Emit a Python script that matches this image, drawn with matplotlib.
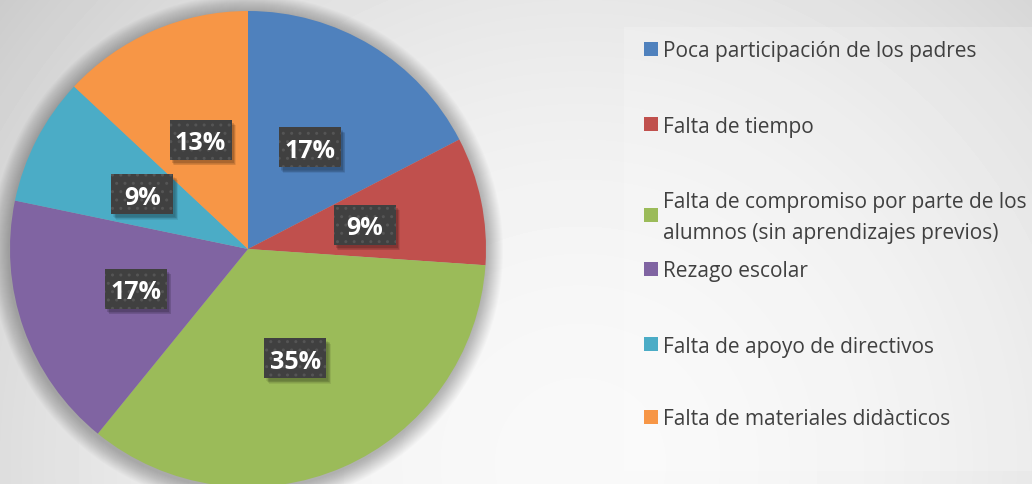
import numpy as np
import matplotlib
matplotlib.use("Agg")
import matplotlib.pyplot as plt
from matplotlib.patches import Rectangle, Circle

categories = [
    "Poca participación de los padres",
    "Falta de tiempo",
    "Falta de compromiso por parte de los\nalumnos (sin aprendizajes previos)",
    "Rezago escolar",
    "Falta de apoyo de directivos",
    "Falta de materiales didàcticos",
]
counts = [4, 2, 8, 4, 2, 3]
colors = ["#4f81bd", "#c0504d", "#9bbb59", "#8064a2", "#4bacc6", "#f79646"]

W, H = 1032, 485
fig = plt.figure(figsize=(W / 100, H / 100), dpi=100)
ax = fig.add_axes([0, 0, 1, 1])
ax.set_xlim(0, W)
ax.set_ylim(0, H)
ax.axis("off")

# background radial gradient
yy, xx = np.mgrid[0:H, 0:W]
d2 = (xx - 580) ** 2 + (yy - 20) ** 2
v = np.clip(0.975 - 3.2e-7 * d2, 0.76, 1)
ax.imshow(v, cmap="gray", vmin=0, vmax=1, extent=[0, W, H, 0], zorder=0,
          origin="upper", aspect="auto")

center = (248, 235)
radius = 238

wedges, texts, autotexts = ax.pie(
    counts, colors=colors, startangle=90, counterclock=False,
    center=center, radius=radius, autopct="%1.0f%%", pctdistance=0.5,
    wedgeprops=dict(linewidth=0, zorder=3), textprops=dict(zorder=6),
)
ax.set_xlim(0, W)
ax.set_ylim(0, H)
ax.set_aspect("equal")

# soft shadow around pie
cx, cy = wedges[0].center
r0 = wedges[0].r
for i in range(18):
    ax.add_patch(Circle((cx - 1, cy - 2), r0 + 18 - i, fc="black", ec="none",
                        alpha=0.016, zorder=2))

# label boxes
bw, bh = 62, 40
for t in autotexts:
    x, y = t.get_position()
    for k in range(5):
        ax.add_patch(Rectangle((x - bw / 2 + 2 + k * 0.6, y - bh / 2 - 3 - k * 0.6), bw, bh,
                               fc="black", ec="none", alpha=0.07, zorder=4))
    ax.add_patch(Rectangle((x - bw / 2, y - bh / 2), bw, bh, fc="#404040",
                           ec="#555555", lw=0, hatch="..", zorder=5))
    t.set_color("white")
    t.set_fontfamily("Open Sans")
    t.set_fontweight("bold")
    t.set_fontsize(18)
    t.set_va("center_baseline")
    t.set_ha("center")

# legend box
ax.add_patch(Rectangle((624, H - 472), W - 624, 472 - 28, fc="white", ec="none",
                       alpha=0.2, zorder=2))

leg_y = [50, 125, 216, 270, 345, 418]
for lab, col, y in zip(categories, colors, leg_y):
    ax.add_patch(Rectangle((644, H - y - 7), 14, 14, fc=col, ec="none", zorder=5))
    ax.text(663, H - y - 2, lab, fontsize=15, fontfamily="Open Sans", color="#404040",
            va="center", ha="left", linespacing=1.6, zorder=6)

fig.savefig("out.png", dpi=100)
